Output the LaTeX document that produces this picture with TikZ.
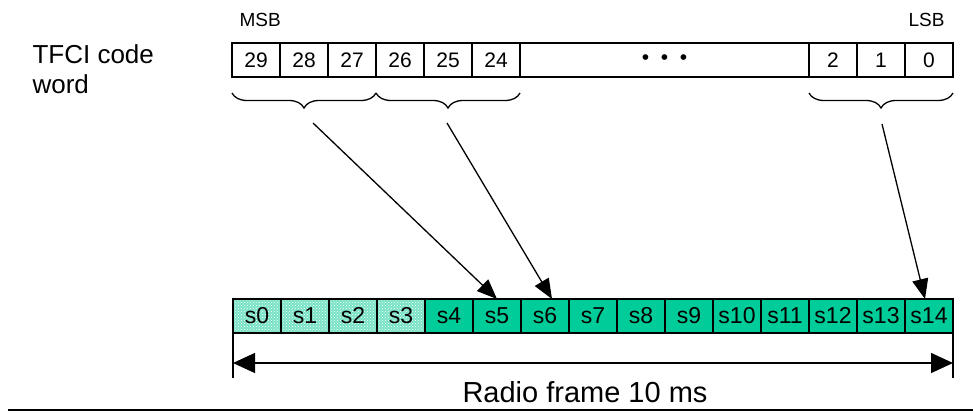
\documentclass[tikz,border=0pt]{standalone}
\usepackage{fontspec}
\setmainfont{Liberation Sans}
\usetikzlibrary{arrows.meta,positioning,decorations.pathreplacing,patterns}
\definecolor{slotgreen}{RGB}{0,204,153}
\definecolor{slotlight}{RGB}{120,226,198}

\begin{document}
\begin{tikzpicture}[%
    x=1pt, y=-1pt,
    >={Triangle[length=20pt,width=16pt]},
    node distance=48pt,
    on grid,
    bit/.style={draw, line width=1.2pt, outer sep=0pt, inner sep=0pt,
        minimum width=48pt, minimum height=34pt, font=\fontsize{21}{21}\selectfont},
    slot/.style={bit, fill=slotgreen, font=\fontsize{23}{23}\selectfont},
    dtxslot/.style={bit, font=\fontsize{23}{23}\selectfont,
        preaction={fill=slotlight}, pattern=crosshatch dots, pattern color=white},
    brc/.style={decorate, line width=1.3pt,
        decoration={brace, mirror, amplitude=15pt}},
    lbl/.style={font=\fontsize{19}{19}\selectfont}
    ]
    \useasboundingbox (0,0) rectangle (973,412);

    \node[anchor=base west, align=left, font=\fontsize{26}{30}\selectfont] (tfci) at (29,93) {TFCI code\\word};

    \node[bit] (b29) at (256,60) {29};
    \foreach \n [remember=\n as \p (initially 29)] in {28,...,24}
        \node[bit, right=of b\p] (b\n) {\n};
    \node[bit, minimum width=289pt, anchor=west] (dots) at (b24.east) {\textbullet\ \ \textbullet\ \ \textbullet};
    \node[bit, anchor=west] (b2) at (dots.east) {2};
    \node[bit, right=of b2] (b1) {1};
    \node[bit, right=of b1] (b0) {0};

    \node[lbl, anchor=base west] (msb) at ([xshift=4pt,yshift=16pt]b29.north west) {MSB};
    \node[lbl, anchor=base east] (lsb) at ([xshift=-5pt,yshift=16pt]b0.north east) {LSB};

    \draw[brc] ([yshift=-16pt]b29.south west) -- ([yshift=-16pt]b26.south west);
    \draw[brc] ([yshift=-16pt]b26.south west) -- ([yshift=-16pt]b24.south east);
    \draw[brc] ([yshift=-16pt]b2.south west) -- ([yshift=-16pt]b0.south east);

    \node[dtxslot] (s0) at (257,316) {s0};
    \foreach \n [remember=\n as \p (initially 0)] in {1,2,3}
        \node[dtxslot, right=of s\p] (s\n) {s\n};
    \foreach \n [remember=\n as \p (initially 3)] in {4,...,14}
        \node[slot, right=of s\p] (s\n) {s\n};

    \coordinate (g1) at (313,123);
    \coordinate (g2) at (447,123);
    \coordinate (g3) at (882,124);
    \draw[->, line width=1.3pt] (g1) -- (s5.north);
    \draw[->, line width=1.3pt] (g2) -- ([xshift=7pt]s6.north);
    \draw[->, line width=1.3pt] (g3) -- ([xshift=-4pt]s14.north);

    \draw[line width=1.3pt] (s0.south west) -- ++(0,45);
    \draw[line width=1.3pt] (s14.south east) -- ++(0,45);
    \draw[{Triangle[length=22pt,width=20pt]}-{Triangle[length=22pt,width=20pt]}, line width=1.3pt]
        ([yshift=-30pt]s0.south west) -- ([yshift=-30pt]s14.south east);
    \node[font=\fontsize{29}{29}\selectfont] (frame) at (585,392) {Radio frame 10 ms};

    \draw[line width=2pt] (8,410) -- (973,410);
\end{tikzpicture}
\end{document}
